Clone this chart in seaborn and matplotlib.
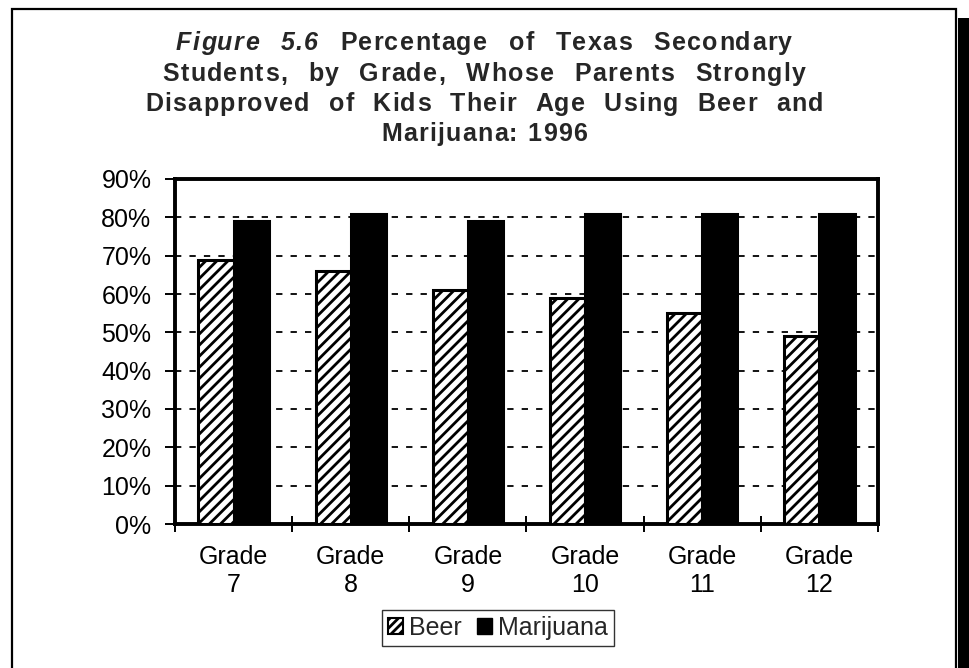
import matplotlib
matplotlib.use("Agg")
import matplotlib.pyplot as plt
from matplotlib.patches import Patch, Rectangle
from matplotlib.ticker import FixedLocator, FuncFormatter
import numpy as np
import pandas as pd
import seaborn as sns

# Survey results, percent of students per grade
grades = ["Grade\n7", "Grade\n8", "Grade\n9", "Grade\n10", "Grade\n11", "Grade\n12"]
beer = [69, 66, 61, 59, 55, 49]
marijuana = [79, 81, 79, 81, 81, 81]
series_names = ["Beer", "Marijuana"]
y_ticks = [0, 10, 20, 30, 40, 50, 60, 70, 80, 90]

title_lead = "Figure 5.6"
title_lines = [
    "Percentage of Texas Secondary",
    "Students, by Grade, Whose Parents Strongly",
    "Disapproved of Kids Their Age Using Beer and",
    "Marijuana: 1996",
]

df = pd.DataFrame({
    "grade": grades * 2,
    "substance": [series_names[0]] * len(grades) + [series_names[1]] * len(grades),
    "pct": beer + marijuana,
})

sns.set_theme(style="white")
plt.rcParams["font.family"] = ["Liberation Sans", "DejaVu Sans"]
plt.rcParams["hatch.linewidth"] = 2.0
plt.rcParams["hatch.color"] = "black"

W, H = 970, 668
fig = plt.figure(figsize=(W / 100, H / 100), dpi=100)
fig.patch.set_facecolor("white")
ax = fig.add_axes([175 / W, 1 - 524 / H, 703 / W, 345 / H])

sns.barplot(data=df, x="grade", y="pct", hue="substance", order=grades,
            hue_order=series_names, palette={"Beer": "white", "Marijuana": "black"},
            width=0.6, edgecolor="black", linewidth=2.2, saturation=1,
            legend=False, ax=ax, zorder=3)

for bar in ax.containers[0]:
    bar.set_hatch("///")

ax.set_ylim(0, 90)
ax.set_xlim(-0.5, len(grades) - 0.5)
ax.set_xlabel("")
ax.set_ylabel("")

# dashed horizontal gridlines
ax.set_axisbelow(True)
ax.yaxis.grid(True, color="black", linestyle=(0, (3.5, 4.5)), linewidth=1.3)
ax.xaxis.grid(False)

ax.yaxis.set_major_locator(FixedLocator(y_ticks))
ax.yaxis.set_major_formatter(FuncFormatter(lambda v, p: f"{v:.0f}%"))
ax.tick_params(axis="y", which="major", direction="out", length=7, width=1.4,
               color="black", pad=10, labelsize=18, labelcolor="black", left=True)

ax.set_xticks(range(len(grades)))
ax.set_xticklabels(grades)
ax.tick_params(axis="x", which="major", length=0, pad=15, labelsize=18, labelcolor="black")
ax.set_xticks(np.arange(-0.5, len(grades), 1.0), minor=True)
ax.tick_params(axis="x", which="minor", direction="inout", length=11, width=1.4,
               color="black", bottom=True)

for side in ["left", "right", "top", "bottom"]:
    ax.spines[side].set_visible(True)
    ax.spines[side].set_color("black")
    ax.spines[side].set_linewidth(2.8)

# legend below the plot
handles = [Patch(facecolor="white", edgecolor="black", hatch="////", linewidth=1.5),
           Patch(facecolor="black", edgecolor="black")]
leg = fig.legend(handles, series_names, loc="center", bbox_to_anchor=(498 / W, 1 - 628 / H),
                 ncol=2, frameon=True, fancybox=False, fontsize=18, handlelength=0.6,
                 handleheight=0.6, handletextpad=0.25, columnspacing=0.6,
                 borderpad=0.25, borderaxespad=0)
leg.get_frame().set_edgecolor("black")
leg.get_frame().set_linewidth(1.0)

# page frame with shadow band at the right
fig.patches.append(Rectangle((12 / W, -0.05), (956 - 12) / W, 1.05 - 9 / H,
                             transform=fig.transFigure, fill=False,
                             edgecolor="black", linewidth=1.6, zorder=0))
fig.patches.append(Rectangle((958 / W, 0), 12 / W, 1 - 18 / H,
                             transform=fig.transFigure, facecolor="black",
                             edgecolor="none", zorder=0))

# title, letter-spaced and set word by word
cx = 484.0
baselines = [50, 81, 111, 141]
word_gaps = [22.0, 21.0, 19.0, 10.0]
title_size = 18
tracking = 1.3
fig.canvas.draw()
renderer = fig.canvas.get_renderer()


def set_word(word, italic, y):
    chars = []
    for ch in word:
        t = fig.text(0, 1 - y / H, ch, fontsize=title_size, fontweight="bold",
                     style="italic" if italic else "normal", va="baseline", ha="left")
        chars.append((t, t.get_window_extent(renderer).width))
    width = sum(w for _, w in chars) + tracking * (len(chars) - 1)
    return chars, width


def place_line(words, y, gap):
    built = [set_word(w, it, y) for w, it in words]
    total = sum(w for _, w in built) + gap * (len(built) - 1)
    x = cx - total / 2
    for chars, wwidth in built:
        cxp = x
        for t, w in chars:
            t.set_x(cxp / W)
            cxp += w + tracking
        x += wwidth + gap


first = [(w, True) for w in title_lead.split()] + [(w, False) for w in title_lines[0].split()]
place_line(first, baselines[0], word_gaps[0])
for text, yy, gap in zip(title_lines[1:], baselines[1:], word_gaps[1:]):
    place_line([(w, False) for w in text.split()], yy, gap)

fig.savefig("out.png", dpi=100, facecolor="white")
